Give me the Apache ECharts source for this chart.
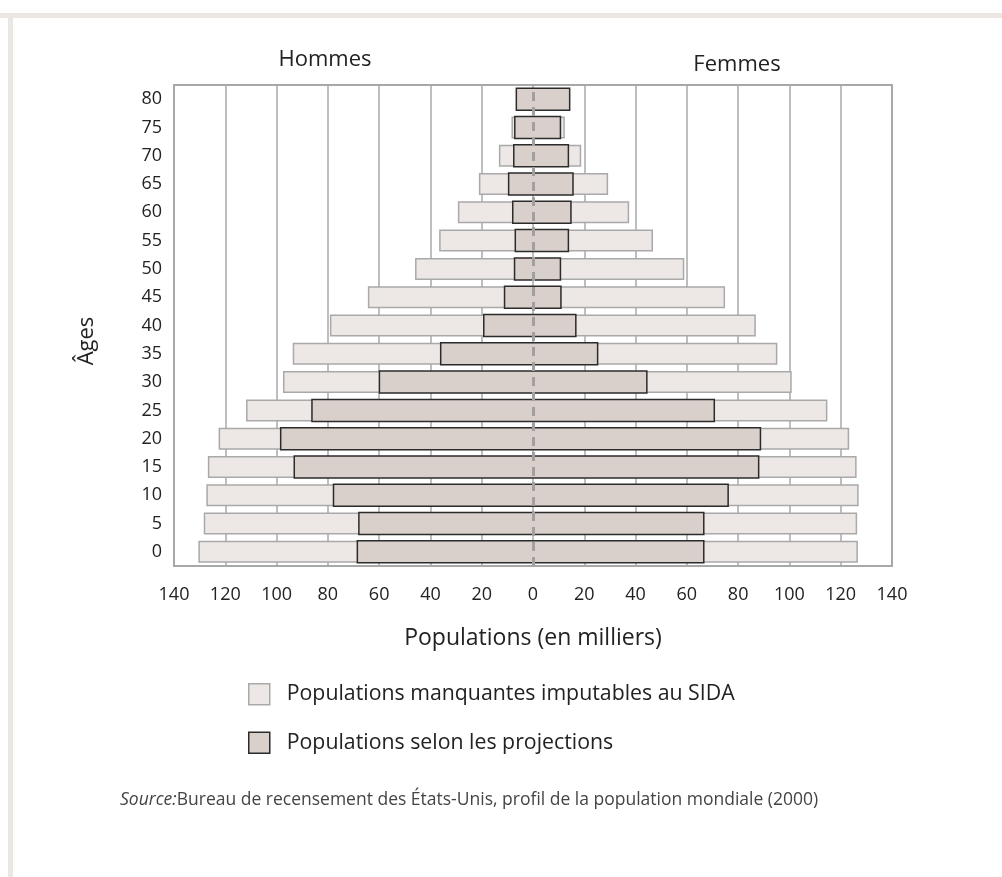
<!DOCTYPE html>
<html>
<head>
<meta charset="utf-8">
<script src="https://cdn.jsdelivr.net/npm/echarts@6/dist/echarts.min.js"></script>
<style>
html,body{margin:0;padding:0;background:#fff;}
#chart{width:1002px;height:877px;}
</style>
</head>
<body>
<div id="chart"></div>
<script>
// Age groups, bottom to top
const ages = ['0','5','10','15','20','25','30','35','40','45','50','55','60','65','70','75','80'];
// Hommes (thousands)
const menMissing = [130.5,128.4,127.4,126.8,122.6,111.9,97.5,93.7,79.2,64.4,46.0,36.6,29.3,21.1,13.3,8.4,6.5];
const menProjected = [68.5,67.9,77.8,93.1,98.4,86.2,59.9,36.0,19.2,11.1,7.2,6.9,7.9,9.5,7.5,7.1,6.5];
// Femmes (thousands)
const womenMissing = [126.7,126.4,127.0,126.2,123.3,114.8,100.9,95.3,86.9,74.9,59.0,46.8,37.5,29.3,18.8,12.4,14.3];
const womenProjected = [66.6,66.6,76.1,88.0,88.7,70.7,44.4,25.2,16.7,10.9,10.7,13.8,14.8,15.6,13.8,10.7,14.3];

const nameMissing = 'Populations manquantes imputables au SIDA';
const nameProjected = 'Populations selon les projections';

const FONT = "'Open Sans', 'Noto Sans', sans-serif";
const LIGHT_FILL = '#ede8e6', LIGHT_BORDER = '#a9a9a9';
const DARK_FILL = '#d9cfcb', DARK_BORDER = '#2b2b2b';
const BW = 22;

// Dark bars: outline on the three outer sides only (the zero side is hidden under the dashed axis)
function renderDark(params, api) {
  const cat = api.value(1), val = api.value(0);
  const p0 = api.coord([0, cat]);
  const p1 = api.coord([val, cat]);
  const y0 = p0[1] - BW / 2, y1 = p0[1] + BW / 2;
  const xl = Math.min(p0[0], p1[0]), w = Math.abs(p1[0] - p0[0]);
  return {
    type: 'group',
    children: [
      {type:'rect', shape:{x:xl, y:y0, width:w, height:BW}, style:{fill:DARK_FILL}},
      {type:'polyline', shape:{points:[[p0[0], y0],[p1[0], y0],[p1[0], y1],[p0[0], y1]]},
        style:{stroke:DARK_BORDER, lineWidth:1.5, fill:null}}
    ]
  };
}

const chart = echarts.init(document.getElementById('chart'), null, {renderer:'canvas'});
chart.setOption({
  backgroundColor:'#ffffff',
  animation:false,
  textStyle:{fontFamily:FONT},
  graphic:[
    {type:'rect', shape:{x:0,y:13,width:1002,height:5}, style:{fill:'#ebe6e2'}, silent:true},
    {type:'rect', shape:{x:8,y:13,width:5,height:864}, style:{fill:'#ebe6e2'}, silent:true},
    {type:'text', x:325, y:60, style:{text:'Hommes', fontSize:22, fill:'#222', fontFamily:FONT, align:'center', verticalAlign:'middle'}},
    {type:'text', x:737, y:65, style:{text:'Femmes', fontSize:22, fill:'#222', fontFamily:FONT, align:'center', verticalAlign:'middle'}},
    {type:'text', x:87, y:341, rotation:Math.PI/2, style:{text:'Âges', fontSize:22, fill:'#222', fontFamily:FONT, align:'center', verticalAlign:'middle'}},
    {type:'text', left:120, top:791, style:{
      text:'{i|Source:}Bureau de recensement des États-Unis, profil de la population mondiale (2000)',
      fontSize:17.5, fill:'#444', fontFamily:FONT,
      rich:{i:{fontStyle:'italic', fontSize:17.5, fill:'#444', fontFamily:FONT}}
    }}
  ],
  legend:{
    orient:'vertical', left:243, top:678, itemWidth:21, itemHeight:21, itemGap:26,
    icon:'rect',
    data:[
      {name:nameMissing, itemStyle:{color:LIGHT_FILL, borderColor:LIGHT_BORDER, borderWidth:1.5}},
      {name:nameProjected, itemStyle:{color:DARK_FILL, borderColor:DARK_BORDER, borderWidth:1.5}}
    ],
    textStyle:{fontSize:21.3, color:'#222', fontFamily:FONT, padding:[0,0,0,12]}
  },
  grid:{left:174, right:110, top:85, bottom:311, show:true, borderColor:'#a8a8a8', borderWidth:2, backgroundColor:'transparent'},
  xAxis:{
    type:'value', min:-140, max:140, interval:20,
    name:'Populations (en milliers)', nameLocation:'middle', nameGap:61,
    nameTextStyle:{fontSize:23, color:'#222', fontFamily:FONT},
    axisLabel:{formatter:v=>Math.abs(v), fontSize:18, color:'#222', margin:20, fontFamily:FONT},
    axisLine:{show:false}, axisTick:{show:false},
    splitLine:{show:true, lineStyle:{color:'#a8a8a8', width:1.5}}
  },
  yAxis:{
    type:'category', data:ages,
    axisLabel:{fontSize:18, color:'#222', margin:12, fontFamily:FONT},
    axisLine:{show:false}, axisTick:{show:false}, splitLine:{show:false}
  },
  series:[
    {name:nameMissing, type:'bar', barWidth:BW, barGap:'-100%', data:menMissing.map(v=>-v),
      itemStyle:{color:LIGHT_FILL, borderColor:LIGHT_BORDER, borderWidth:1.5}},
    {name:nameMissing, type:'bar', barWidth:BW, barGap:'-100%', data:womenMissing,
      itemStyle:{color:LIGHT_FILL, borderColor:LIGHT_BORDER, borderWidth:1.5}},
    {name:nameProjected, type:'custom', renderItem:renderDark, encode:{x:0, y:1}, z:3,
      itemStyle:{color:DARK_FILL, borderColor:DARK_BORDER, borderWidth:1.5},
      data:menProjected.map((v,i)=>[-v, i])},
    {name:nameProjected, type:'custom', renderItem:renderDark, encode:{x:0, y:1}, z:3,
      itemStyle:{color:DARK_FILL, borderColor:DARK_BORDER, borderWidth:1.5},
      data:womenProjected.map((v,i)=>[v, i]),
      markLine:{silent:true, symbol:'none', label:{show:false}, z:10,
        lineStyle:{color:'#a0a0a0', type:[9,6], width:3},
        data:[{xAxis:0}]}}
  ]
});
</script>
</body>
</html>
